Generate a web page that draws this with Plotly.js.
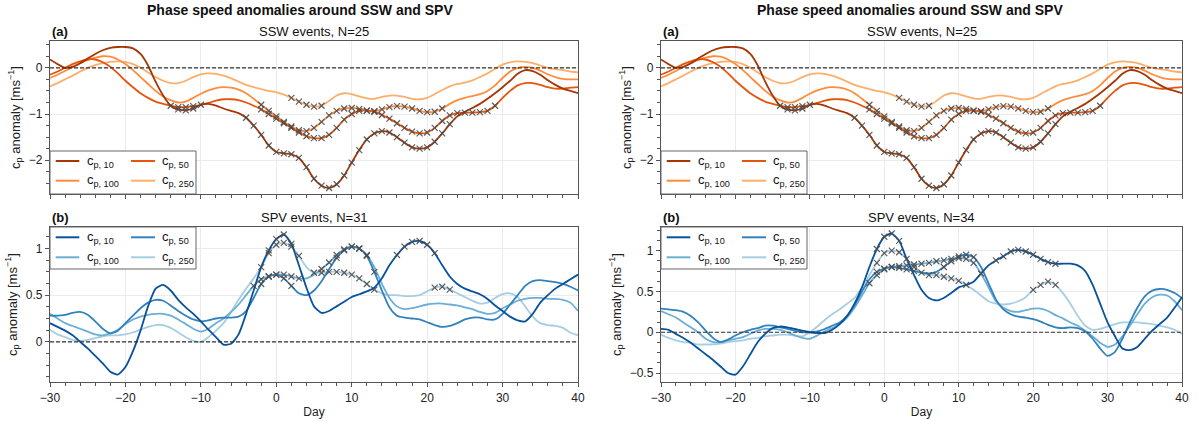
<!DOCTYPE html>
<html><head><meta charset="utf-8">
<script src="https://cdn.plot.ly/plotly-3.0.1.min.js"></script>
<style>html,body{margin:0;padding:0;background:#fff}#chart{width:1198px;height:421px}</style>
</head><body><div id="chart"></div>
<script>
// ---------- data ----------
const days = [-30,-29,-28,-27,-26,-25,-24,-23,-22,-21,
  -20,-19,-18,-17,-16,-15,-14,-13,-12,-11,
  -10,-9,-8,-7,-6,-5,-4,-3,-2,-1,
  0,1,2,3,4,5,6,7,8,9,
  10,11,12,13,14,15,16,17,18,19,
  20,21,22,23,24,25,26,27,28,29,
  30,31,32,33,34,35,36,37,38,39,40];

const seriesNames = ['c<sub>p, 10</sub>','c<sub>p, 50</sub>','c<sub>p, 100</sub>','c<sub>p, 250</sub>'];

// SSW events, N=25
const ssw_c10 = [0.18,0.08,0.0,0.02,0.1,0.2,0.3,0.38,0.43,0.45,
  0.45,0.42,0.3,0.05,-0.3,-0.6,-0.82,-0.9,-0.92,-0.88,
  -0.8,-0.78,-0.82,-0.88,-0.93,-0.98,-1.08,-1.25,-1.45,-1.68,
  -1.82,-1.85,-1.87,-1.95,-2.15,-2.4,-2.55,-2.6,-2.52,-2.33,
  -2.05,-1.78,-1.55,-1.42,-1.37,-1.4,-1.5,-1.62,-1.72,-1.75,
  -1.72,-1.6,-1.42,-1.22,-1.05,-0.95,-0.87,-0.78,-0.67,-0.55,
  -0.42,-0.28,-0.13,-0.05,-0.07,-0.15,-0.27,-0.37,-0.45,-0.5,-0.55];
const ssw_c50 = [-0.15,-0.08,0.0,0.08,0.14,0.18,0.18,0.12,0.02,-0.12,
  -0.28,-0.42,-0.55,-0.65,-0.73,-0.78,-0.82,-0.85,-0.85,-0.83,
  -0.8,-0.76,-0.71,-0.68,-0.68,-0.7,-0.75,-0.82,-0.9,-1.0,
  -1.1,-1.2,-1.3,-1.4,-1.48,-1.52,-1.52,-1.45,-1.3,-1.12,
  -1.0,-0.93,-0.92,-0.95,-1.02,-1.1,-1.2,-1.3,-1.38,-1.42,
  -1.4,-1.3,-1.15,-1.03,-0.98,-0.97,-0.97,-0.96,-0.93,-0.82,
  -0.65,-0.5,-0.38,-0.33,-0.33,-0.37,-0.42,-0.45,-0.45,-0.43,-0.42];
const ssw_c100 = [-0.22,-0.15,-0.07,0.02,0.1,0.17,0.22,0.25,0.24,0.18,
  0.08,-0.05,-0.2,-0.35,-0.5,-0.62,-0.7,-0.75,-0.73,-0.65,
  -0.56,-0.49,-0.44,-0.42,-0.43,-0.47,-0.55,-0.67,-0.8,-0.93,
  -1.05,-1.17,-1.27,-1.35,-1.37,-1.3,-1.17,-1.03,-0.93,-0.88,
  -0.87,-0.89,-0.93,-0.94,-0.9,-0.85,-0.83,-0.84,-0.88,-0.93,
  -0.96,-0.95,-0.88,-0.78,-0.7,-0.65,-0.61,-0.57,-0.5,-0.38,
  -0.22,-0.08,0.0,0.02,0.0,-0.06,-0.14,-0.2,-0.24,-0.25,-0.25];
const ssw_c250 = [-0.4,-0.33,-0.25,-0.17,-0.08,0.0,0.06,0.1,0.13,0.14,
  0.13,0.08,0.0,-0.1,-0.2,-0.28,-0.33,-0.33,-0.28,-0.2,
  -0.14,-0.12,-0.13,-0.17,-0.23,-0.3,-0.37,-0.42,-0.46,-0.5,
  -0.53,-0.58,-0.65,-0.73,-0.8,-0.84,-0.82,-0.72,-0.6,-0.55,
  -0.57,-0.62,-0.66,-0.67,-0.63,-0.6,-0.6,-0.63,-0.67,-0.68,
  -0.65,-0.57,-0.48,-0.4,-0.35,-0.32,-0.27,-0.2,-0.12,-0.02,
  0.07,0.12,0.14,0.13,0.1,0.05,0.0,-0.03,-0.05,-0.08,-0.1];
// significant days (x markers)
const ssw_sig10 = [-14,-13,-12,-11,-4,-3,-2,-1,0,1,2,3,4,5,6,7,8,9,10,11,12,13,14,15,16,17,18,19,20,21,22,23];
const ssw_sig50 = [-13,-12,-11,-10,-2,-1,0,1,2,3,4,5,6,7,8,9,10,11,12,13,14,15,16,17,18,19,20,21,22,23,24,25,26,27,28,29];
const ssw_sig100 = [-2,-1,0,1,2,3,4,5,6,7,8,9,10,11,12,13,14,15,16,17,18,19,20,21,22];
const ssw_sig250 = [2,3,4,5,6];

// SPV events, N=31
const spv31_c10 = [0.2,0.16,0.12,0.07,0.0,-0.07,-0.15,-0.23,-0.32,-0.35,
  -0.27,-0.1,0.12,0.38,0.57,0.61,0.55,0.45,0.37,0.3,
  0.22,0.13,0.05,-0.03,-0.02,0.08,0.3,0.55,0.8,0.98,
  1.1,1.15,1.05,0.82,0.58,0.38,0.31,0.33,0.38,0.43,
  0.48,0.51,0.54,0.58,0.68,0.82,0.93,1.02,1.07,1.08,
  1.04,0.95,0.82,0.7,0.62,0.57,0.54,0.51,0.46,0.39,
  0.33,0.27,0.23,0.22,0.3,0.42,0.5,0.57,0.62,0.67,0.72];
const spv31_c50 = [0.28,0.28,0.29,0.31,0.32,0.29,0.22,0.14,0.09,0.12,
  0.2,0.28,0.36,0.42,0.45,0.44,0.39,0.33,0.28,0.24,
  0.22,0.23,0.25,0.26,0.26,0.27,0.33,0.47,0.62,0.7,
  0.72,0.68,0.6,0.52,0.5,0.55,0.65,0.78,0.9,0.98,
  1.02,1.0,0.92,0.75,0.55,0.37,0.28,0.26,0.25,0.24,
  0.21,0.18,0.16,0.17,0.2,0.24,0.26,0.26,0.24,0.24,
  0.3,0.4,0.5,0.6,0.65,0.66,0.65,0.64,0.62,0.59,0.55];
const spv31_c100 = [0.3,0.25,0.2,0.17,0.14,0.11,0.08,0.07,0.09,0.13,
  0.19,0.24,0.27,0.29,0.3,0.3,0.28,0.24,0.19,0.14,
  0.11,0.14,0.2,0.25,0.32,0.4,0.5,0.6,0.67,0.7,
  0.72,0.72,0.7,0.68,0.68,0.72,0.78,0.85,0.93,0.99,
  1.02,1.0,0.93,0.8,0.62,0.47,0.38,0.35,0.36,0.38,
  0.4,0.41,0.41,0.4,0.39,0.37,0.35,0.32,0.3,0.31,
  0.36,0.4,0.44,0.46,0.47,0.47,0.46,0.46,0.45,0.42,0.33];
const spv31_c250 = [0.13,0.08,0.05,0.02,0.01,0.02,0.04,0.06,0.07,0.07,
  0.08,0.1,0.13,0.16,0.18,0.18,0.15,0.1,0.05,0.01,
  0.0,0.05,0.12,0.2,0.32,0.45,0.57,0.68,0.8,0.95,
  1.04,1.06,1.02,0.92,0.8,0.74,0.74,0.75,0.75,0.74,
  0.72,0.68,0.62,0.56,0.52,0.5,0.5,0.49,0.49,0.5,
  0.54,0.58,0.59,0.56,0.52,0.48,0.44,0.41,0.42,0.47,
  0.51,0.52,0.48,0.38,0.27,0.2,0.18,0.17,0.15,0.1,0.07];
const spv31_sig10 = [-1,0,1,2,16,17,18,19,20,21];
const spv31_sig50 = [-2,-1,0,1,2,8,9,10,11,12,13];
const spv31_sig100 = [-3,-2,-1,0,1,2,3,6,7,8,9,10,11,12];
const spv31_sig250 = [-2,-1,0,1,2,3,5,6,7,8,9,10,11,12,13,21,22,23];

// SPV events, N=34
const spv34_c10 = [0.04,0.03,-0.02,-0.07,-0.13,-0.2,-0.27,-0.34,-0.42,-0.5,
  -0.52,-0.42,-0.27,-0.12,-0.02,0.05,0.07,0.06,0.04,0.02,
  0.0,-0.01,-0.01,0.03,0.1,0.2,0.35,0.55,0.8,1.02,
  1.17,1.21,1.12,0.9,0.7,0.52,0.42,0.39,0.42,0.48,
  0.55,0.58,0.62,0.72,0.82,0.88,0.93,0.99,1.01,0.99,
  0.95,0.9,0.86,0.84,0.84,0.84,0.82,0.75,0.58,0.35,
  0.12,-0.05,-0.2,-0.22,-0.18,-0.08,0.02,0.1,0.18,0.3,0.43];
const spv34_c50 = [0.29,0.28,0.27,0.25,0.2,0.12,0.02,-0.07,-0.12,-0.09,
  -0.04,0.0,0.03,0.05,0.08,0.08,0.06,0.04,0.02,0.0,
  0.0,0.01,0.04,0.08,0.12,0.2,0.33,0.5,0.65,0.74,
  0.78,0.8,0.79,0.77,0.75,0.73,0.72,0.74,0.8,0.87,
  0.93,0.95,0.92,0.8,0.6,0.4,0.28,0.22,0.19,0.18,
  0.16,0.13,0.09,0.06,0.05,0.06,0.05,0.01,-0.08,-0.2,
  -0.29,-0.24,-0.08,0.12,0.3,0.44,0.51,0.53,0.52,0.48,0.42];
const spv34_c100 = [0.26,0.22,0.18,0.12,0.06,0.0,-0.08,-0.12,-0.12,-0.1,
  -0.08,-0.06,-0.02,0.02,0.04,0.04,0.03,0.0,-0.04,-0.07,
  -0.08,-0.04,0.01,0.05,0.1,0.18,0.3,0.45,0.6,0.7,
  0.77,0.8,0.81,0.82,0.83,0.84,0.85,0.87,0.88,0.9,
  0.91,0.9,0.85,0.72,0.55,0.38,0.3,0.26,0.25,0.27,
  0.29,0.29,0.26,0.21,0.17,0.12,0.08,0.02,-0.05,-0.13,
  -0.18,-0.15,-0.05,0.08,0.22,0.35,0.43,0.46,0.45,0.38,0.27];
const spv34_c250 = [-0.03,-0.07,-0.1,-0.12,-0.13,-0.15,-0.15,-0.15,-0.14,-0.12,
  -0.11,-0.1,-0.08,-0.07,-0.05,-0.04,-0.03,-0.03,-0.04,-0.05,
  0.0,0.07,0.15,0.22,0.28,0.35,0.42,0.55,0.7,0.85,
  0.97,1.0,0.98,0.9,0.8,0.73,0.7,0.7,0.68,0.66,
  0.63,0.58,0.52,0.45,0.38,0.35,0.34,0.35,0.38,0.43,
  0.52,0.58,0.62,0.58,0.48,0.35,0.2,0.08,0.03,0.04,
  0.07,0.1,0.12,0.12,0.12,0.11,0.1,0.08,0.06,0.03,-0.02];
const spv34_sig10 = [-1,0,1,2,15,16,17,18,19,20,21,22,23];
const spv34_sig50 = [-1,0,1,2,3,4,8,9,10,11,12];
const spv34_sig100 = [-2,-1,0,1,2,3,4,5,6,7,8,9,10,11,12,13];
const spv34_sig250 = [-1,0,1,2,3,4,5,6,7,8,9,10,11,20,21,22,23];

const oranges = ['#a63603','#e6550d','#fd8d3c','#fdae6b'];
const blues = ['#08519c','#3182bd','#6baed6','#a6cee3'];

// ---------- build ----------
const FONT = 'Liberation Sans, Arial, Helvetica, sans-serif';
const panels = [
  {xa:'x', ya:'y', series:[ssw_c10,ssw_c50,ssw_c100,ssw_c250], sig:[ssw_sig10,ssw_sig50,ssw_sig100,ssw_sig250], colors:oranges, top:true, pw:528},
  {xa:'x2', ya:'y2', series:[spv31_c10,spv31_c50,spv31_c100,spv31_c250], sig:[spv31_sig10,spv31_sig50,spv31_sig100,spv31_sig250], colors:blues, top:false, pw:528},
  {xa:'x3', ya:'y3', series:[ssw_c10,ssw_c50,ssw_c100,ssw_c250], sig:[ssw_sig10,ssw_sig50,ssw_sig100,ssw_sig250], colors:oranges, top:true, pw:521},
  {xa:'x4', ya:'y4', series:[spv34_c10,spv34_c50,spv34_c100,spv34_c250], sig:[spv34_sig10,spv34_sig50,spv34_sig100,spv34_sig250], colors:blues, top:false, pw:521}
];

const traces = [];
const shapes = [];
const annotations = [];
panels.forEach(p => {
  for (let i = 3; i >= 0; i--) {
    traces.push({type:'scatter', mode:'lines', x:days, y:p.series[i], xaxis:p.xa, yaxis:p.ya,
      line:{color:p.colors[i], width:1.8, shape:'spline', smoothing:0.6}, showlegend:false, hoverinfo:'skip'});
  }
  for (let i = 3; i >= 0; i--) {
    const sx = [], sy = [];
    p.sig[i].forEach(d => { const k = days.indexOf(d); if (k >= 0) { sx.push(d); sy.push(p.series[i][k]); } });
    traces.push({type:'scatter', mode:'markers', x:sx, y:sy, xaxis:p.xa, yaxis:p.ya,
      marker:{symbol:'x-thin', size:6, color:'rgba(75,75,75,0.9)', line:{color:'rgba(75,75,75,0.9)', width:1.2}},
      showlegend:false, hoverinfo:'skip'});
  }
  const xd = p.xa + ' domain', yd = p.ya + ' domain';
  // zero line
  shapes.push({type:'line', xref:xd, yref:p.ya, x0:0, x1:1, y0:0, y1:0, line:{color:'#333', width:1.2, dash:'4px,2px'}, layer:'above'});
  // manual legend (2 columns)
  const ph = p.top ? 153 : 155;
  const boxW = 146 / p.pw;
  let y0, y1, rows;
  if (p.top) { y0 = 0; y1 = 43/ph; rows = [33/ph, 13.3/ph]; }
  else { y1 = 1; y0 = 1 - 42/ph; rows = [1 - 10.3/ph, 1 - 30.3/ph]; }
  shapes.push({type:'rect', xref:xd, yref:yd, x0:0, x1:boxW, y0:y0, y1:y1, fillcolor:'#fff', line:{color:'#666', width:1}, layer:'above'});
  const cols = [[5.7, 29.3, 35.2], [81, 105, 110.2]];
  for (let i = 0; i < 4; i++) {
    const c = cols[i % 2], r = rows[Math.floor(i / 2)];
    shapes.push({type:'line', xref:xd, yref:yd, x0:c[0]/p.pw, x1:c[1]/p.pw, y0:r, y1:r, line:{color:p.colors[i], width:2}, layer:'above'});
    annotations.push({xref:xd, yref:yd, x:c[2]/p.pw, y:r, xanchor:'left', yanchor:'middle', showarrow:false,
      text:seriesNames[i], font:{family:FONT, size:13, color:'#111'}});
  }
});

function xax(domain, anchor, showLabels) {
  const a = {domain:domain, anchor:anchor, range:[-30,40], tick0:0, dtick:10, ticks:'outside', ticklen:4, tickwidth:1, tickcolor:'#555',
    showline:true, mirror:true, linecolor:'#555', linewidth:1.2, showgrid:true, gridcolor:'#ebebeb', gridwidth:1, zeroline:false,
    showticklabels:showLabels, tickfont:{family:FONT, size:12, color:'#222'},
    minor:{dtick:2, tick0:0, ticks:'outside', ticklen:2.5, tickcolor:'#555', showgrid:false}};
  if (showLabels) a.title = {text:'Day', font:{family:FONT, size:12, color:'#222'}, standoff:4};
  return a;
}
function yax(domain, anchor, range, dtick, mdtick) {
  return {domain:domain, anchor:anchor, range:range, tick0:0, dtick:dtick, ticks:'outside', ticklen:4, tickwidth:1, tickcolor:'#555',
    showline:true, mirror:true, linecolor:'#555', linewidth:1.2, showgrid:true, gridcolor:'#ebebeb', gridwidth:1, zeroline:false,
    tickfont:{family:FONT, size:12, color:'#222'},
    minor:{dtick:mdtick, tick0:0, ticks:'outside', ticklen:2.5, tickcolor:'#555', showgrid:false},
    title:{text:'c<sub>p</sub> anomaly [ms<sup>\u22121</sup>]', font:{family:FONT, size:13, color:'#222'}, standoff:5}};
}
const W = 1198, H = 421;
const xL = [50/W, 578/W], xR = [661/W, 1182/W];
const yT = [1-194/H, 1-41/H], yB = [1-382/H, 1-227/H];

const titleTxt = '<b>Phase speed anomalies around SSW and SPV</b>';
annotations.push({xref:'paper', yref:'paper', x:300/W, y:1-10/H, xanchor:'center', yanchor:'middle', showarrow:false, text:titleTxt, font:{family:FONT, size:14, color:'#111'}});
annotations.push({xref:'paper', yref:'paper', x:910/W, y:1-10/H, xanchor:'center', yanchor:'middle', showarrow:false, text:titleTxt, font:{family:FONT, size:14, color:'#111'}});
const subs = [['x','(a)','SSW events, N=25',31],['x2','(b)','SPV events, N=31',217],['x3','(a)','SSW events, N=25',31],['x4','(b)','SPV events, N=34',217]];
subs.forEach(s => {
  annotations.push({xref:s[0]+' domain', yref:'paper', x:0, y:1-s[3]/H, xanchor:'left', yanchor:'middle', showarrow:false, text:'<b>'+s[1]+'</b>', font:{family:FONT, size:13, color:'#111'}});
  annotations.push({xref:s[0]+' domain', yref:'paper', x:0.5, y:1-s[3]/H, xanchor:'center', yanchor:'middle', showarrow:false, text:s[2], font:{family:FONT, size:13, color:'#111'}});
});

const layout = {
  width:W, height:H, margin:{l:0, r:0, t:0, b:0}, paper_bgcolor:'#fff', plot_bgcolor:'#fff', showlegend:false,
  font:{family:FONT, size:12, color:'#222'},
  xaxis: xax(xL, 'y', false),
  yaxis: yax(yT, 'x', [-2.73, 0.58], 1, 0.25),
  xaxis2: xax(xL, 'y2', true),
  yaxis2: yax(yB, 'x2', [-0.43, 1.23], 0.5, 0.125),
  xaxis3: xax(xR, 'y3', false),
  yaxis3: yax(yT, 'x3', [-2.73, 0.58], 1, 0.25),
  xaxis4: xax(xR, 'y4', true),
  yaxis4: yax(yB, 'x4', [-0.61, 1.29], 0.5, 0.125),
  shapes:shapes, annotations:annotations
};
Plotly.newPlot('chart', traces, layout, {displayModeBar:false, staticPlot:true});
</script></body></html>
